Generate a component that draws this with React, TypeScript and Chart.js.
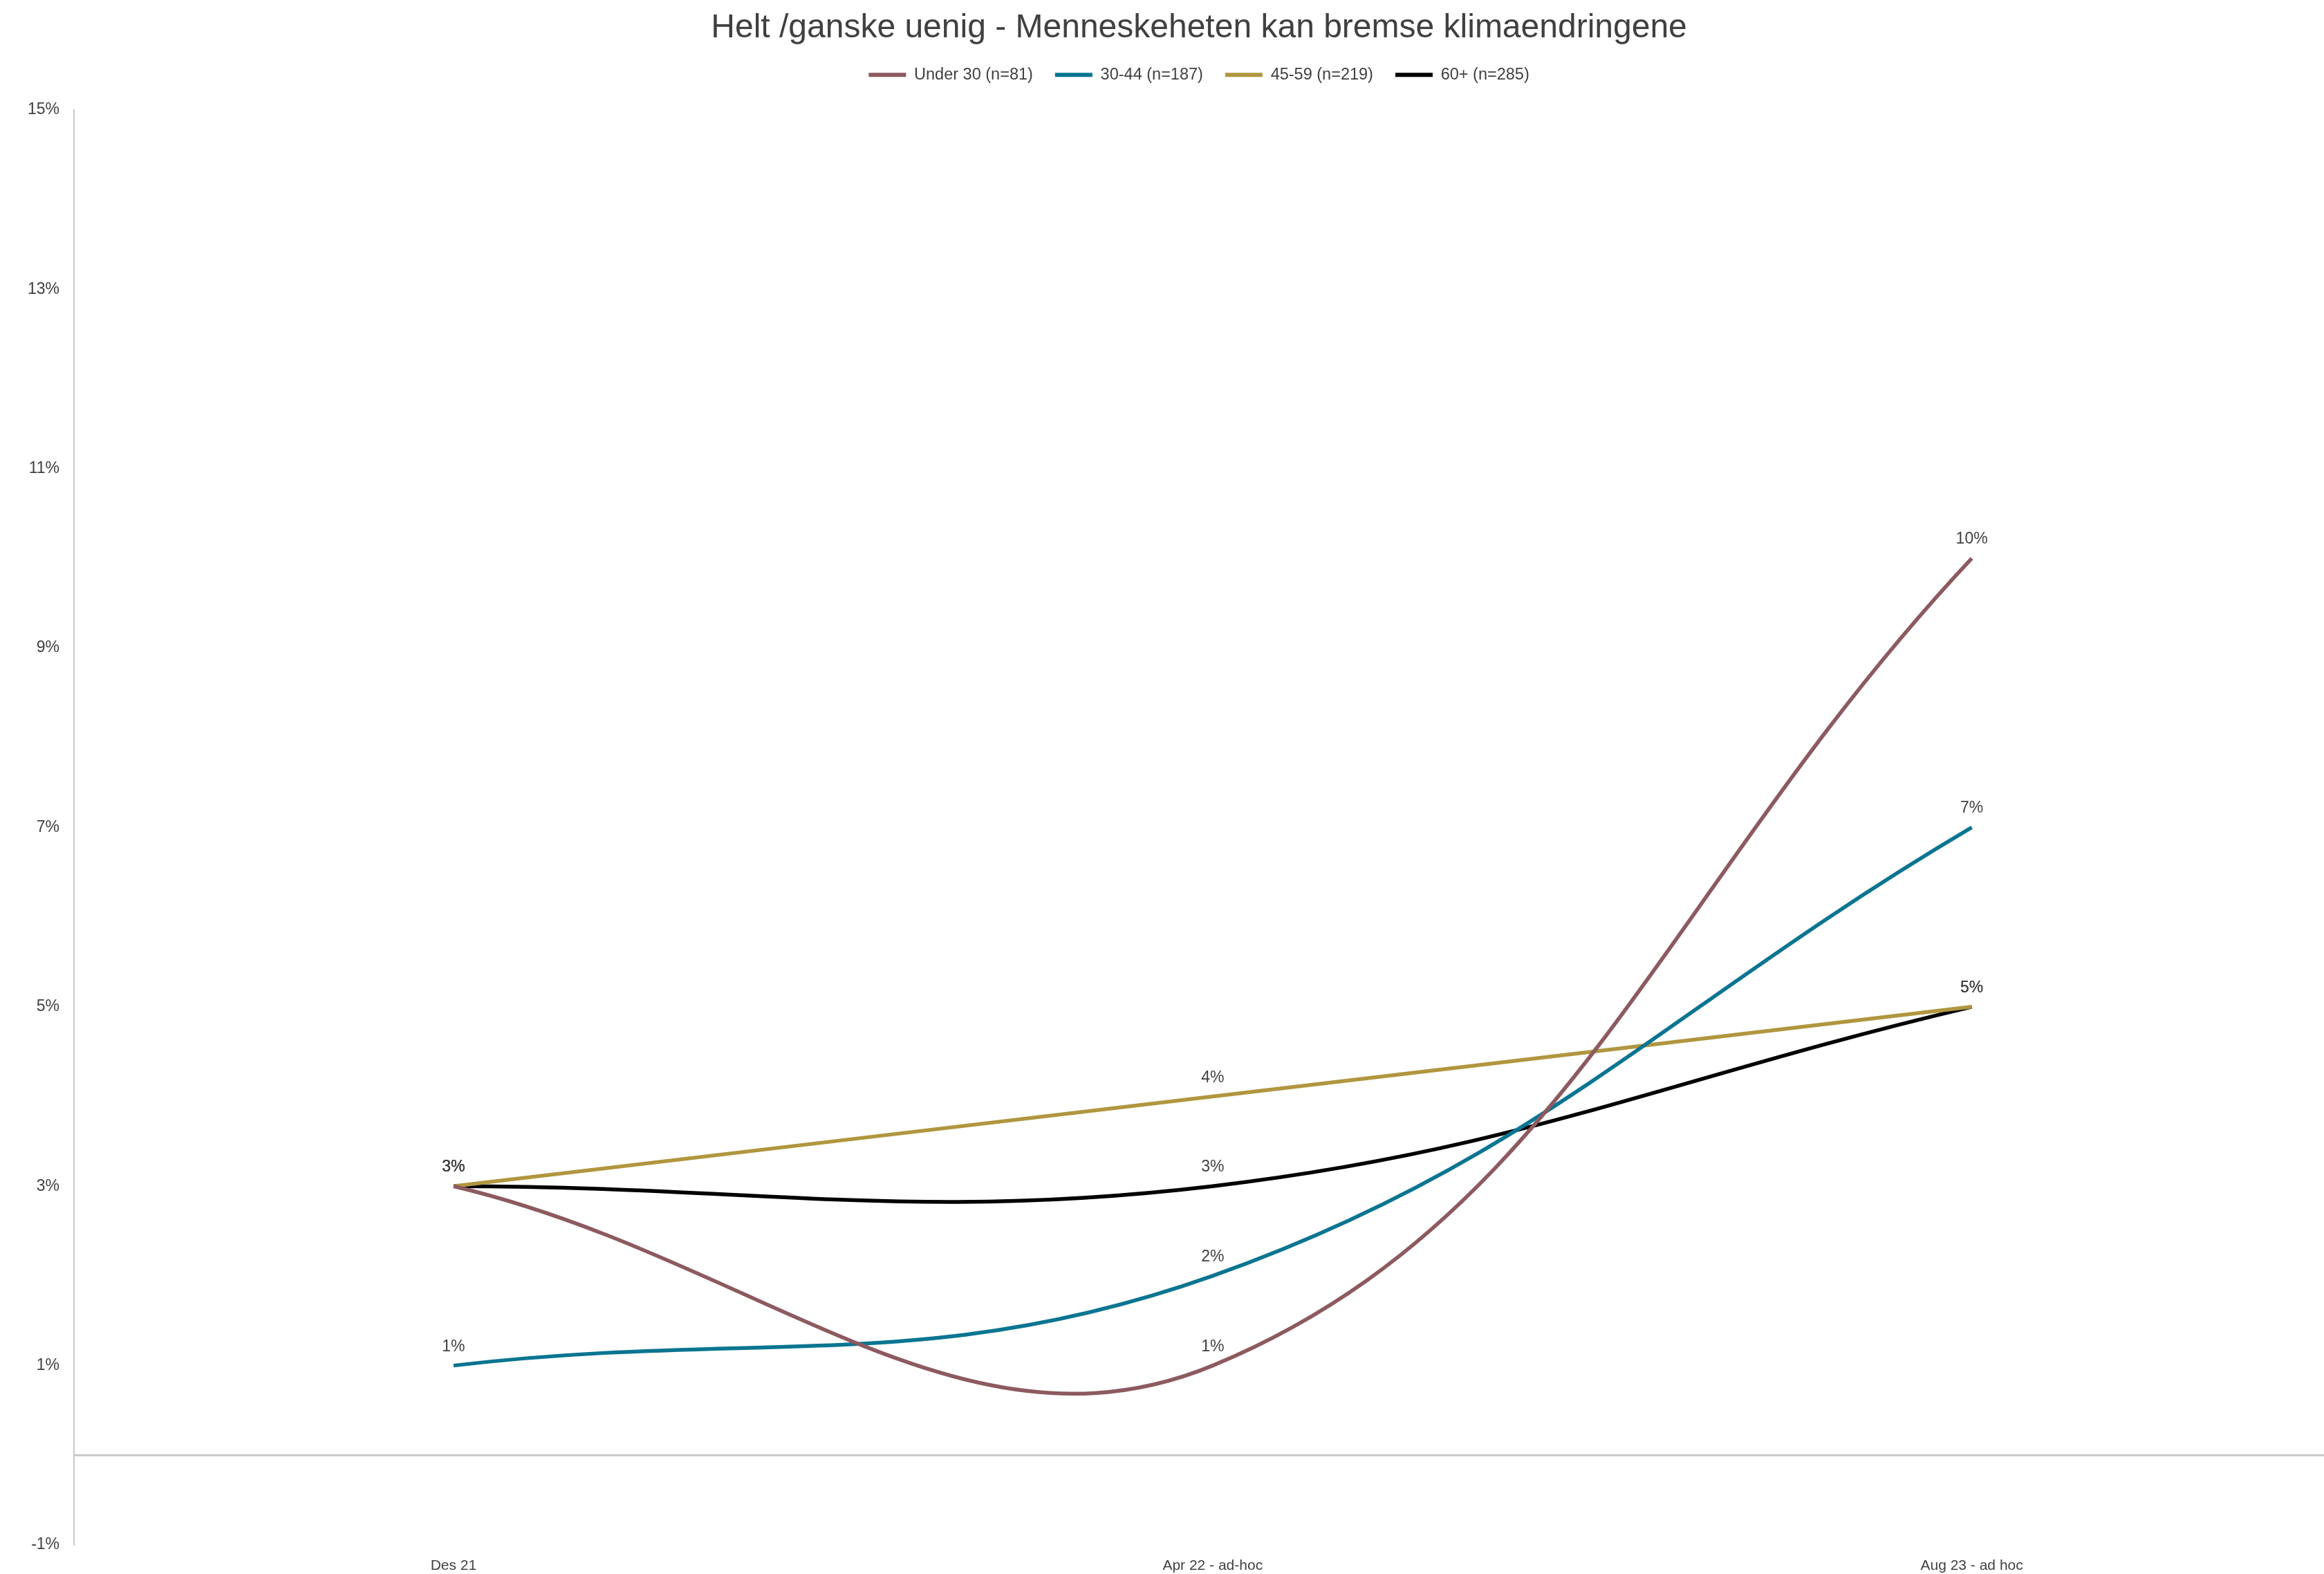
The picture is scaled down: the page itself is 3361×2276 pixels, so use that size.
import React, { useEffect, useRef } from "react";
import { Chart, registerables } from "chart.js";

Chart.register(...registerables);

const TITLE = "Helt /ganske uenig - Menneskeheten kan bremse klimaendringene";
const categories = ["Des 21", "Apr 22 - ad-hoc", "Aug 23 - ad hoc"];
const seriesNames = ["Under 30 (n=81)", "30-44 (n=187)", "45-59 (n=219)", "60+ (n=285)"];
const under30 = [3, 1, 10];
const age30to44 = [1, 2, 7];
const age45to59 = [3, 4, 5];
const age60plus = [3, 3, 5];
const seriesColors = ["#8C5A60", "#0A7591", "#B0963F", "#000000"];
const yTicks = [-1, 1, 3, 5, 7, 9, 11, 13, 15];

const FONT = "'Liberation Sans', Arial, Helvetica, sans-serif";
const TEXT = "#404040";

const zeroLinePlugin = {
  id: "zeroLine",
  beforeDatasetsDraw(chart: any) {
    const { ctx, chartArea, scales } = chart;
    const y = scales.y.getPixelForValue(0);
    ctx.save();
    ctx.strokeStyle = "#c8c8c8";
    ctx.lineWidth = 3;
    ctx.beginPath();
    ctx.moveTo(chartArea.left, y);
    ctx.lineTo(chartArea.right, y);
    ctx.stroke();
    ctx.restore();
  },
};

const dataLabelPlugin = {
  id: "dataLabels",
  afterDatasetsDraw(chart: any) {
    const { ctx } = chart;
    ctx.save();
    ctx.font = `23px ${FONT}`;
    ctx.fillStyle = TEXT;
    ctx.textAlign = "center";
    ctx.textBaseline = "alphabetic";
    chart.data.datasets.forEach((ds: any, i: number) => {
      const meta = chart.getDatasetMeta(i);
      meta.data.forEach((el: any, j: number) => {
        const v = ds.data[j].y;
        ctx.fillText(Math.round(v) + "%", el.x, el.y - 21);
      });
    });
    ctx.restore();
  },
};

export default function App() {
  const ref = useRef<HTMLCanvasElement>(null);

  useEffect(() => {
    const all = [under30, age30to44, age45to59, age60plus];
    const chart = new Chart(ref.current as HTMLCanvasElement, {
      type: "line",
      data: {
        datasets: all.map((vals, i) => ({
          label: seriesNames[i],
          data: vals.map((v, j) => ({ x: j, y: v })),
          borderColor: seriesColors[i],
          backgroundColor: seriesColors[i],
          borderWidth: 5.5,
          pointRadius: 0,
          tension: 0.4,
          fill: false,
        })),
      },
      options: {
        responsive: false,
        animation: false,
        devicePixelRatio: 1,
        layout: { padding: { left: 19, right: 0, top: 0, bottom: 0 } },
        plugins: {
          title: {
            display: true,
            text: TITLE,
            color: TEXT,
            fullSize: false,
            font: { family: FONT, size: 48, weight: "normal" },
            padding: { top: 12, bottom: -5 },
          },
          legend: {
            display: true,
            position: "top",
            fullSize: false,
            labels: {
              color: TEXT,
              font: { family: FONT, size: 23.5 },
              boxWidth: 54,
              boxHeight: 6,
              padding: 32,
              generateLabels(chart: any) {
                const items = Chart.defaults.plugins.legend.labels.generateLabels(chart);
                return items.map((it: any) => ({ ...it, lineWidth: 0 }));
              },
            },
          },
          subtitle: {
            display: true,
            text: "",
            weight: 500,
            fullSize: false,
            font: { family: FONT, size: 24, lineHeight: 1.2 },
            padding: 0,
          } as any,
          tooltip: { enabled: false },
        },
        scales: {
          x: {
            type: "linear",
            min: -0.5,
            max: 2.464,
            grid: { display: false, drawTicks: false },
            border: { display: false },
            afterBuildTicks(scale: any) {
              scale.ticks = categories.map((_, i) => ({ value: i }));
            },
            afterFit(scale: any) {
              scale.height = 42;
            },
            ticks: {
              color: TEXT,
              font: { family: FONT, size: 21 },
              padding: 18,
              autoSkip: false,
              maxRotation: 0,
              callback: (v: any) => categories[v] ?? "",
            },
          },
          y: {
            type: "linear",
            min: -1,
            max: 15,
            grid: { display: false, drawTicks: false },
            border: { display: true, color: "#c8c8c8", width: 2 },
            afterBuildTicks(scale: any) {
              scale.ticks = yTicks.map((v) => ({ value: v }));
            },
            ticks: {
              color: TEXT,
              font: { family: FONT, size: 23 },
              padding: 21,
              callback: (v: any) => v + "%",
            },
          },
        },
      },
      plugins: [zeroLinePlugin, dataLabelPlugin],
    });
    return () => chart.destroy();
  }, []);

  return (
    <div style={{ position: "fixed", left: 0, top: 0, width: 3361, height: 2276, background: "#fff" }}>
      <canvas ref={ref} width={3361} height={2276} style={{ display: "block" }} />
    </div>
  );
}
